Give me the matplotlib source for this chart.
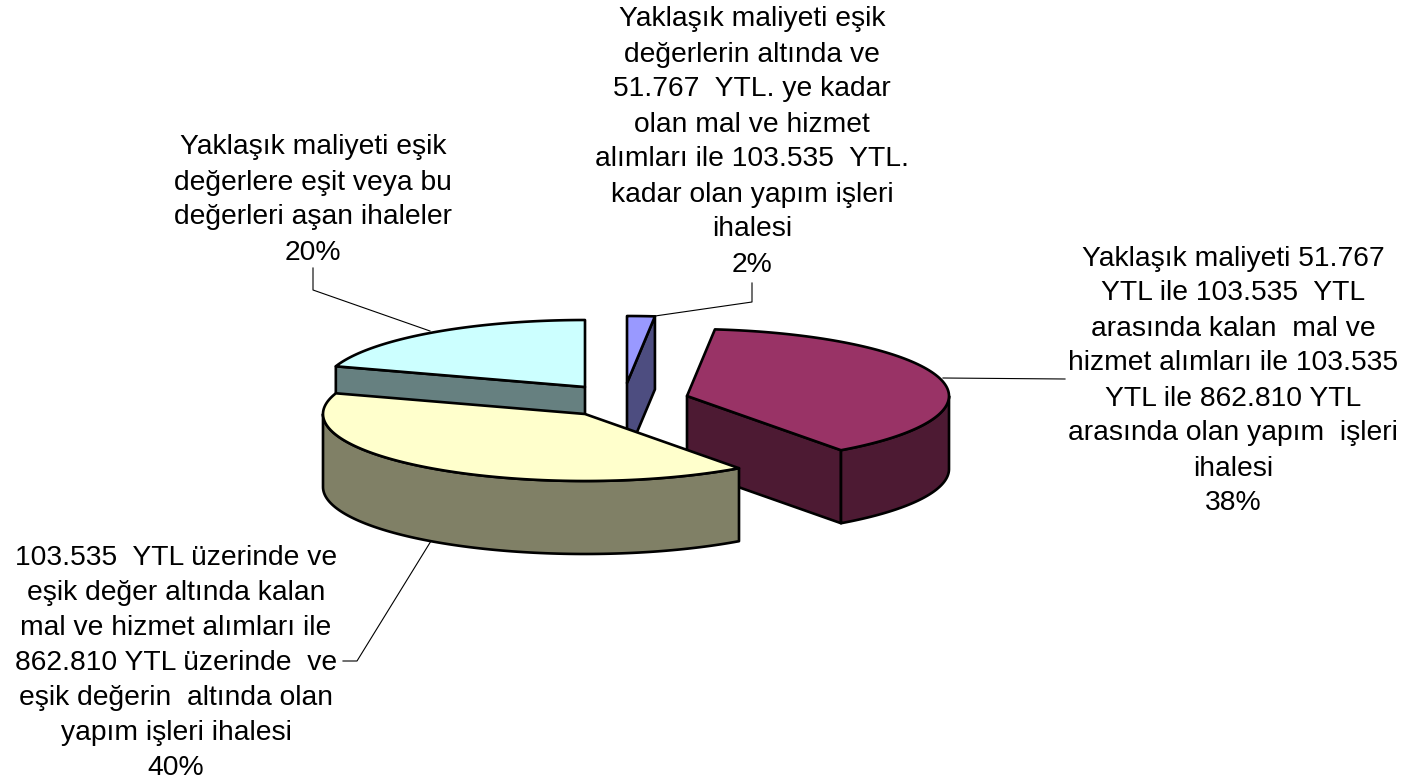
import numpy as np
import matplotlib
matplotlib.use("Agg")
import matplotlib.pyplot as plt
from matplotlib.patches import Polygon

plt.rcParams["font.family"] = ["Liberation Sans", "DejaVu Sans"]

# values are clockwise from 12 o'clock
values = [1.7, 38.3, 40.0, 20.0]
labels = [
    "Yaklaşık maliyeti eşik\ndeğerlerin altında ve\n51.767  YTL. ye kadar\nolan mal ve hizmet\nalımları ile 103.535  YTL.\nkadar olan yapım işleri\nihalesi",
    "Yaklaşık maliyeti 51.767\nYTL ile 103.535  YTL\narasında kalan  mal ve\nhizmet alımları ile 103.535\nYTL ile 862.810 YTL\narasında olan yapım  işleri\nihalesi",
    "103.535  YTL üzerinde ve\neşik değer altında kalan\nmal ve hizmet alımları ile\n862.810 YTL üzerinde  ve\neşik değerin  altında olan\nyapım işleri ihalesi",
    "Yaklaşık maliyeti eşik\ndeğerlere eşit veya bu\ndeğerleri aşan ihaleler",
]
top_colors = ["#9999FF", "#993366", "#FFFFCC", "#CCFFFF"]
side_colors = ["#4D4D80", "#4D1A33", "#808066", "#668080"]

# exploded slice apex positions in pixels
apex = [(627, 383), (687, 396), (585, 414), (585, 387)]
label_pos = [(752, 142), (1233, 381), (176, 663), (313, 200)]
leaders = [
    [(752, 283), (752, 302), (655, 316)],
    [(1065, 379), (943, 378)],
    [(343, 661), (357, 661), (431, 541)],
    [(313, 268), (313, 290), (430, 331)],
]
rx, ry, depth = 262, 67, 73
draw_order = [3, 0, 1, 2]

fig = plt.figure(figsize=(14.12, 7.83), dpi=100)
ax = fig.add_axes([0, 0, 1, 1])
ax.set_xlim(0, 1412)
ax.set_ylim(783, 0)
ax.axis("off")


def rim(i, a0, a1):
    t = np.radians(np.linspace(a0, a1, 100))
    return np.column_stack([apex[i][0] + rx * np.sin(t), apex[i][1] - ry * np.cos(t)])


def poly(pts, color, z):
    ax.add_patch(Polygon(pts, closed=True, facecolor=color, edgecolor="black",
                         linewidth=1.9, joinstyle="round", zorder=z))


edges = np.cumsum([0] + values) / sum(values) * 360
down = np.array([0, depth])

for z, i in enumerate(draw_order):
    a0, a1 = edges[i], edges[i + 1]
    c = np.array(apex[i], dtype=float)
    # radial walls facing the viewer
    for a in ([a0] if np.sin(np.radians(a0)) < -1e-6 else []) + ([a1] if np.sin(np.radians(a1)) > 1e-6 else []):
        p = rim(i, a, a)[0]
        poly([c, p, p + down, c + down], side_colors[i], z * 10 + 1)
    # curved front of the slice
    f0, f1 = max(a0, 90), min(a1, 270)
    if f1 > f0:
        r = rim(i, f0, f1)
        poly(np.vstack([r, r[::-1] + down]), side_colors[i], z * 10 + 2)
    poly(np.vstack([c, rim(i, a0, a1)]), top_colors[i], z * 10 + 3)

total = sum(values)
for i in range(len(values)):
    txt = labels[i] + "\n" + f"{round(values[i] / total * 100)}%"
    ax.text(label_pos[i][0], label_pos[i][1], txt, fontsize=20.3, color="black", ha="center",
            va="center", multialignment="center", linespacing=1.45, zorder=100)
    xs, ys = zip(*leaders[i])
    ax.plot(xs, ys, color="black", linewidth=0.8, zorder=50)

fig.savefig("out.png", dpi=100)
